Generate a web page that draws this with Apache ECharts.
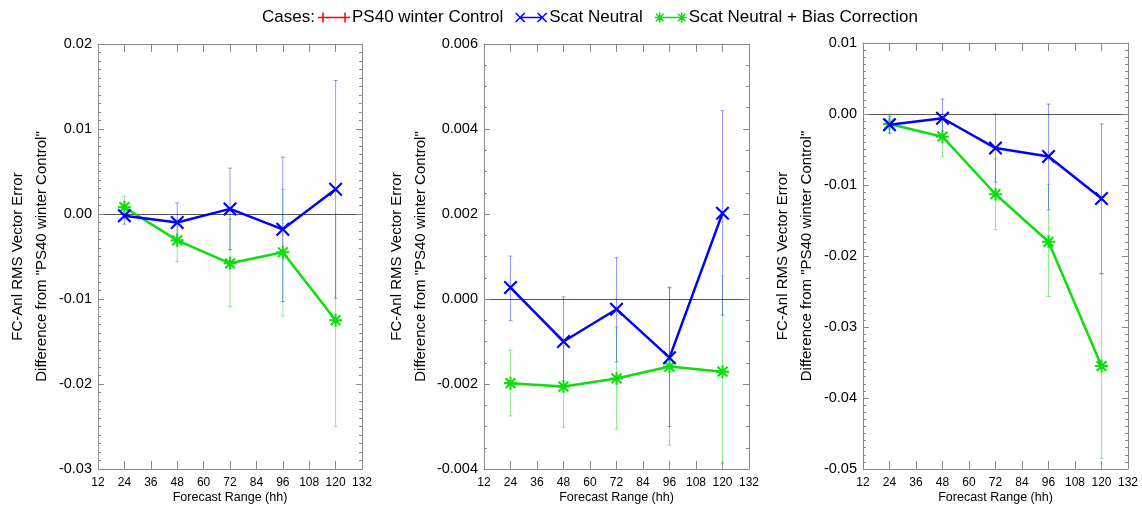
<!DOCTYPE html>
<html>
<head>
<meta charset="utf-8">
<script src="https://cdn.jsdelivr.net/npm/echarts@6/dist/echarts.min.js"></script>
<style>
html,body{margin:0;padding:0;background:#fff;}
#chart{width:1142px;height:505px;}
</style>
</head>
<body>
<div id="chart"></div>
<script>
// ---- data ----
const hours = [24, 48, 72, 96, 120];
const seriesNames = ['PS40 winter Control', 'Scat Neutral', 'Scat Neutral + Bias Correction'];
const yAxisTitle = 'FC-Anl RMS Vector Error\nDifference from "PS40 winter Control"';
const xAxisTitle = 'Forecast Range (hh)';

// Panel 1
const p1Neutral   = [-0.0002, -0.0010, 0.0006, -0.0018, 0.0029];
const p1NeutralLo = [-0.0012, -0.0033, -0.0042, -0.0103, -0.0099];
const p1NeutralHi = [0.0009, 0.0013, 0.0054, 0.0067, 0.0157];
const p1Bias      = [0.0008, -0.0031, -0.0058, -0.0045, -0.0125];
const p1BiasLo    = [-0.0005, -0.0056, -0.0109, -0.0120, -0.0250];
const p1BiasHi    = [0.0021, -0.0006, -0.0006, 0.0029, 0.0000];

// Panel 2
const p2Neutral   = [0.00027, -0.0010, -0.00024, -0.00138, 0.00202];
const p2NeutralLo = [-0.00051, -0.00205, -0.00148, -0.0030, -0.00038];
const p2NeutralHi = [0.00101, 0.00005, 0.00097, 0.00028, 0.00443];
const p2Bias      = [-0.00198, -0.00206, -0.00187, -0.00159, -0.00171];
const p2BiasLo    = [-0.00275, -0.00302, -0.00306, -0.00344, -0.00386];
const p2BiasHi    = [-0.0012, -0.0011, -0.00066, 0.00026, 0.00054];

// Panel 3
const p3Neutral   = [-0.0015, -0.0006, -0.0048, -0.0060, -0.0119];
const p3NeutralLo = [-0.0027, -0.0033, -0.0096, -0.0135, -0.0225];
const p3NeutralHi = [-0.0003, 0.0021, 0.0000, 0.0014, -0.0014];
const p3Bias      = [-0.0014, -0.0032, -0.0113, -0.0180, -0.0355];
const p3BiasLo    = [-0.0027, -0.0060, -0.0163, -0.0257, -0.0485];
const p3BiasHi    = [0.0000, -0.0004, -0.0063, -0.0099, -0.0225];

// axis ranges
const xMin = 12, xMax = 132, xStep = 12;
const yRanges = [
  {min: -0.03, max: 0.02, interval: 0.01, digits: 2, minor: 10},
  {min: -0.004, max: 0.006, interval: 0.002, digits: 3, minor: 4},
  {min: -0.05, max: 0.01, interval: 0.01, digits: 2, minor: 10}
];

// ---- style / layout ----
const FONT = '"Liberation Sans", Arial, Helvetica, sans-serif';
const BLUE = '#0000ff', GREEN = '#10dc10', RED = '#ff0000';
const BLUE_ERR = 'rgba(0,0,255,0.40)', GREEN_ERR = 'rgba(0,200,0,0.42)';
const FRAME = '#8a8a8a';
const grids = [
  {left: 98, top: 44, width: 264, height: 425, outerBoundsMode: 'none', containLabel: false},
  {left: 484, top: 44, width: 265, height: 425, outerBoundsMode: 'none', containLabel: false},
  {left: 863, top: 43, width: 265, height: 426, outerBoundsMode: 'none', containLabel: false}
];

// ---- symbol path helpers ----
function seg(x1, y1, x2, y2, t) {
  const dx = x2 - x1, dy = y2 - y1, L = Math.hypot(dx, dy);
  const nx = -dy / L * t / 2, ny = dx / L * t / 2;
  let p = [[x1 + nx, y1 + ny], [x2 + nx, y2 + ny], [x2 - nx, y2 - ny], [x1 - nx, y1 - ny]];
  let a = 0;
  for (let i = 0; i < 4; i++) { const q = p[i], r = p[(i + 1) % 4]; a += q[0] * r[1] - r[0] * q[1]; }
  if (a < 0) p = p.reverse();
  return p;
}
function toPath(polys) {
  return 'path://' + polys.map(p => 'M' + p.map(q => q[0].toFixed(3) + ',' + q[1].toFixed(3)).join('L') + 'Z').join('');
}
function crossSegs(cx, cy, r, t) { // x shape
  return [seg(cx - r, cy - r, cx + r, cy + r, t), seg(cx - r, cy + r, cx + r, cy - r, t)];
}
function plusSegs(cx, cy, r, t) {
  return [seg(cx - r, cy, cx + r, cy, t), seg(cx, cy - r, cx, cy + r, t)];
}
function starSegs(cx, cy, r, t) {
  const d = r * 0.75;
  return [seg(cx, cy - r, cx, cy + r, t), seg(cx - r, cy, cx + r, cy, t),
          seg(cx - d, cy - d, cx + d, cy + d, t), seg(cx - d, cy + d, cx + d, cy - d, t)];
}
const SYM_X = toPath(crossSegs(5, 5, 5, 1.7));
const SYM_STAR = toPath(starSegs(5, 5, 5, 1.6));
function legendIcon(kind) {
  const polys = [seg(5, 6, 27, 6, 1.4)];
  const f = kind === 'plus' ? plusSegs : kind === 'x' ? crossSegs : starSegs;
  const r = kind === 'x' ? 4.5 : 5;
  return toPath(polys.concat(f(5, 6, r, 1.5), f(27, 6, r, 1.5)));
}

function fmt(digits) {
  return v => (Math.abs(v) < 1e-12 ? 0 : v).toFixed(digits);
}

function errRender(params, api) {
  const x = api.value(0), lo = api.value(1), hi = api.value(2);
  const a = api.coord([x, lo]), b = api.coord([x, hi]);
  const c = 2;
  const style = {stroke: api.visual('color'), lineWidth: 1};
  return {type: 'group', children: [
    {type: 'line', shape: {x1: a[0], y1: a[1], x2: b[0], y2: b[1]}, style},
    {type: 'line', shape: {x1: a[0] - c, y1: a[1], x2: a[0] + c, y2: a[1]}, style},
    {type: 'line', shape: {x1: b[0] - c, y1: b[1], x2: b[0] + c, y2: b[1]}, style}
  ]};
}

const panels = [
  {n: p1Neutral, nLo: p1NeutralLo, nHi: p1NeutralHi, b: p1Bias, bLo: p1BiasLo, bHi: p1BiasHi},
  {n: p2Neutral, nLo: p2NeutralLo, nHi: p2NeutralHi, b: p2Bias, bLo: p2BiasLo, bHi: p2BiasHi},
  {n: p3Neutral, nLo: p3NeutralLo, nHi: p3NeutralHi, b: p3Bias, bLo: p3BiasLo, bHi: p3BiasHi}
];

const xAxes = [], yAxes = [], series = [];
panels.forEach((p, i) => {
  const yr = yRanges[i];
  const baseX = {
    type: 'value', gridIndex: i, min: xMin, max: xMax, interval: xStep,
    splitLine: {show: false},
    axisLine: {show: true, onZero: false, lineStyle: {color: FRAME, width: 1}},
    axisTick: {show: true, inside: true, length: 8, lineStyle: {color: FRAME}}
  };
  xAxes.push(Object.assign({}, baseX, {
    position: 'bottom',
    axisLabel: {show: true, color: '#000', fontSize: 12, fontFamily: FONT, margin: 8},
    name: xAxisTitle, nameLocation: 'middle', nameGap: 22, nameMoveOverlap: false,
    nameTextStyle: {color: '#000', fontSize: 12.5, fontFamily: FONT}
  }));
  xAxes.push(Object.assign({}, baseX, {position: 'top', axisLabel: {show: false}}));
  const baseY = {
    type: 'value', gridIndex: i, min: yr.min, max: yr.max, interval: yr.interval,
    splitLine: {show: false},
    axisLine: {show: true, onZero: false, lineStyle: {color: FRAME, width: 1}},
    axisTick: {show: true, inside: true, length: 6, lineStyle: {color: FRAME}},
    minorTick: {show: true, splitNumber: yr.minor, length: 3, lineStyle: {color: FRAME}}
  };
  yAxes.push(Object.assign({}, baseY, {
    position: 'left',
    axisLabel: {show: true, color: '#000', fontSize: 14.5, fontFamily: FONT, margin: 6, formatter: fmt(yr.digits)},
    name: yAxisTitle, nameLocation: 'middle', nameRotate: 90, nameGap: 44,
    nameTextStyle: {color: '#000', fontSize: 15, fontFamily: FONT, lineHeight: 24}
  }));
  yAxes.push(Object.assign({}, baseY, {position: 'right', axisLabel: {show: false}}));

  const xi = 2 * i, yi = 2 * i;
  if (i === 0) {
    series.push({name: seriesNames[0], type: 'line', xAxisIndex: xi, yAxisIndex: yi, data: [],
      color: RED, itemStyle: {color: RED}, lineStyle: {color: RED}});
  }
  series.push({type: 'custom', xAxisIndex: xi, yAxisIndex: yi, renderItem: errRender,
    itemStyle: {color: GREEN_ERR}, encode: {x: 0, y: [1, 2]}, silent: true, z: 1,
    data: hours.map((h, k) => [h, p.bLo[k], p.bHi[k]])});
  series.push({type: 'custom', xAxisIndex: xi, yAxisIndex: yi, renderItem: errRender,
    itemStyle: {color: BLUE_ERR}, encode: {x: 0, y: [1, 2]}, silent: true, z: 2,
    data: hours.map((h, k) => [h, p.nLo[k], p.nHi[k]])});
  series.push({name: seriesNames[2], type: 'line', xAxisIndex: xi, yAxisIndex: yi, z: 3,
    data: hours.map((h, k) => [h, p.b[k]]),
    symbol: SYM_STAR, symbolSize: 13, showAllSymbol: true,
    itemStyle: {color: GREEN}, lineStyle: {color: GREEN, width: 2.5},
    markLine: {silent: true, symbol: 'none', label: {show: false}, z: 0,
      lineStyle: {color: '#555', width: 1, type: 'solid'}, data: [{yAxis: 0}]}
  });
  series.push({name: seriesNames[1], type: 'line', xAxisIndex: xi, yAxisIndex: yi, z: 4,
    data: hours.map((h, k) => [h, p.n[k]]),
    symbol: SYM_X, symbolSize: 14, showAllSymbol: true,
    itemStyle: {color: BLUE}, lineStyle: {color: BLUE, width: 2.5}
  });
});

const chart = echarts.init(document.getElementById('chart'), null, {renderer: 'canvas'});
chart.setOption({
  animation: false,
  backgroundColor: '#fff',
  textStyle: {fontFamily: FONT},
  title: {text: 'Cases:', left: 262, top: 9, padding: 0,
    textStyle: {fontSize: 17, fontWeight: 'normal', color: '#000', fontFamily: FONT}},
  legend: {
    left: 318, top: 9, padding: 0, itemGap: 12, itemWidth: 32, itemHeight: 12,
    selectedMode: false,
    textStyle: {fontSize: 17, color: '#000', fontFamily: FONT, padding: [0, 0, 0, -3]},
    data: [
      {name: seriesNames[0], icon: legendIcon('plus'), itemStyle: {color: RED}},
      {name: seriesNames[1], icon: legendIcon('x'), itemStyle: {color: BLUE}},
      {name: seriesNames[2], icon: legendIcon('star'), itemStyle: {color: GREEN}}
    ]
  },
  grid: grids,
  xAxis: xAxes,
  yAxis: yAxes,
  series: series
});
</script>
</body>
</html>
